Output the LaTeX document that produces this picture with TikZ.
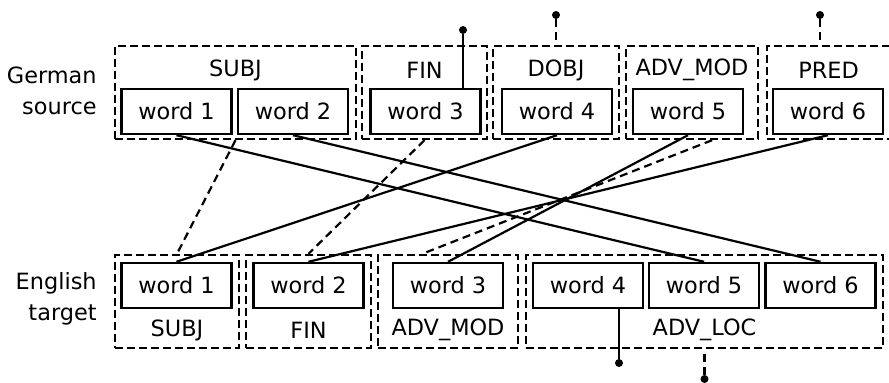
\documentclass[tikz,border=0pt]{standalone}
\usepackage{fontspec}
\setmainfont{DejaVu Sans}
\usetikzlibrary{positioning,calc}
\newcommand{\diagfont}{\fontsize{11.2pt}{15.5pt}\selectfont}
\tikzset{
  wordbox/.style={rectangle, draw=black, line width=1.2pt, minimum width=55pt, minimum height=22.5pt, inner sep=0pt, fill=white, font=\diagfont},
  groupbox/.style={rectangle, draw=black, line width=1.2pt, dash pattern=on 4pt off 2pt, minimum height=46.5pt, inner sep=0pt},
  grouplabel/.style={inner sep=0pt, font=\diagfont},
  sidelabel/.style={anchor=east, align=right, inner sep=0pt, font=\diagfont},
  enddot/.style={circle, fill=black, inner sep=0pt, minimum size=4pt},
  link/.style={line width=1.1pt},
  weaklink/.style={line width=1.1pt, dash pattern=on 4pt off 2.5pt},
}

\begin{document}
\begin{tikzpicture}[x=0.5pt, y=-0.5pt]
  \useasboundingbox (0,0) rectangle (889,383);
  % side labels
  \node[sidelabel] (src) at (97,90.5) {German\\source};
  \node[sidelabel] (tgt) at (97,299) {English\\target};
  % source groups
  \foreach \n/\x/\w/\t in {1/235.5/120.5/SUBJ,2/424.5/62.5/FIN,3/556/63/DOBJ,4/692/66/ADV\_MOD,5/828.5/61.5/PRED}{
    \node[groupbox, minimum width=\w pt] (sg\n) at (\x,92.5) {};
    \node[grouplabel] (sl\n) at (\x,70) {\t};
  }
  % target groups
  \foreach \n/\x/\w/\t in {1/177/62/SUBJ,2/308.5/62.5/FIN,3/448/70/ADV\_MOD,4/704.5/178.5/ADV\_LOC}{
    \node[groupbox, minimum width=\w pt] (tg\n) at (\x,301.5) {};
  }
  \foreach \n/\x/\t in {1/177/SUBJ,2/308.5/FIN,3/448/ADV\_MOD,4/704.5/ADV\_LOC}
    \node[grouplabel] (tl\n) at (\x,330) {\t};
  % words
  \foreach \n/\x in {1/176.5,2/293,3/425.5,4/557,5/688,6/828}
    \node[wordbox] (sw\n) at (\x,111.5) {word \n};
  \foreach \n/\x in {1/176.5,2/308.5,3/448,4/588,5/704,6/820.5}
    \node[wordbox] (tw\n) at (\x,285.5) {word \n};
  % word alignments
  \draw[link] (sw1.south) -- (tw5.north);
  \draw[link] (sw2.south) -- (tw6.north);
  \draw[link] (sw4.south) -- (tw1.north);
  \draw[link] (sw5.south) -- (tw3.north);
  \draw[link] (sw6.south) -- (tw2.north);
  % group alignments
  \draw[weaklink] (sg1.south) -- (tg1.north);
  \draw[weaklink] (sg2.south) -- (tg2.north);
  \draw[weaklink] ($(sg4.south west)!0.65!(sg4.south east)$) -- ($(tg3.north west)!0.32!(tg3.north east)$);
  % heads
  \node[enddot] (d1) at (463,30) {};
  \node[enddot] (d2) at (556,15) {};
  \node[enddot] (d3) at (820,15) {};
  \node[enddot] (d4) at (619,363) {};
  \node[enddot] (d5) at (704.5,379) {};
  \draw[link] (d1) -- (d1 |- sw3.north);
  \draw[weaklink] (d2) -- (d2 |- sg3.north);
  \draw[weaklink] (d3) -- (d3 |- sg5.north);
  \draw[link] (d4) -- (d4 |- tw4.south);
  \draw[weaklink] (d5) -- (d5 |- tg4.south);
\end{tikzpicture}
\end{document}
